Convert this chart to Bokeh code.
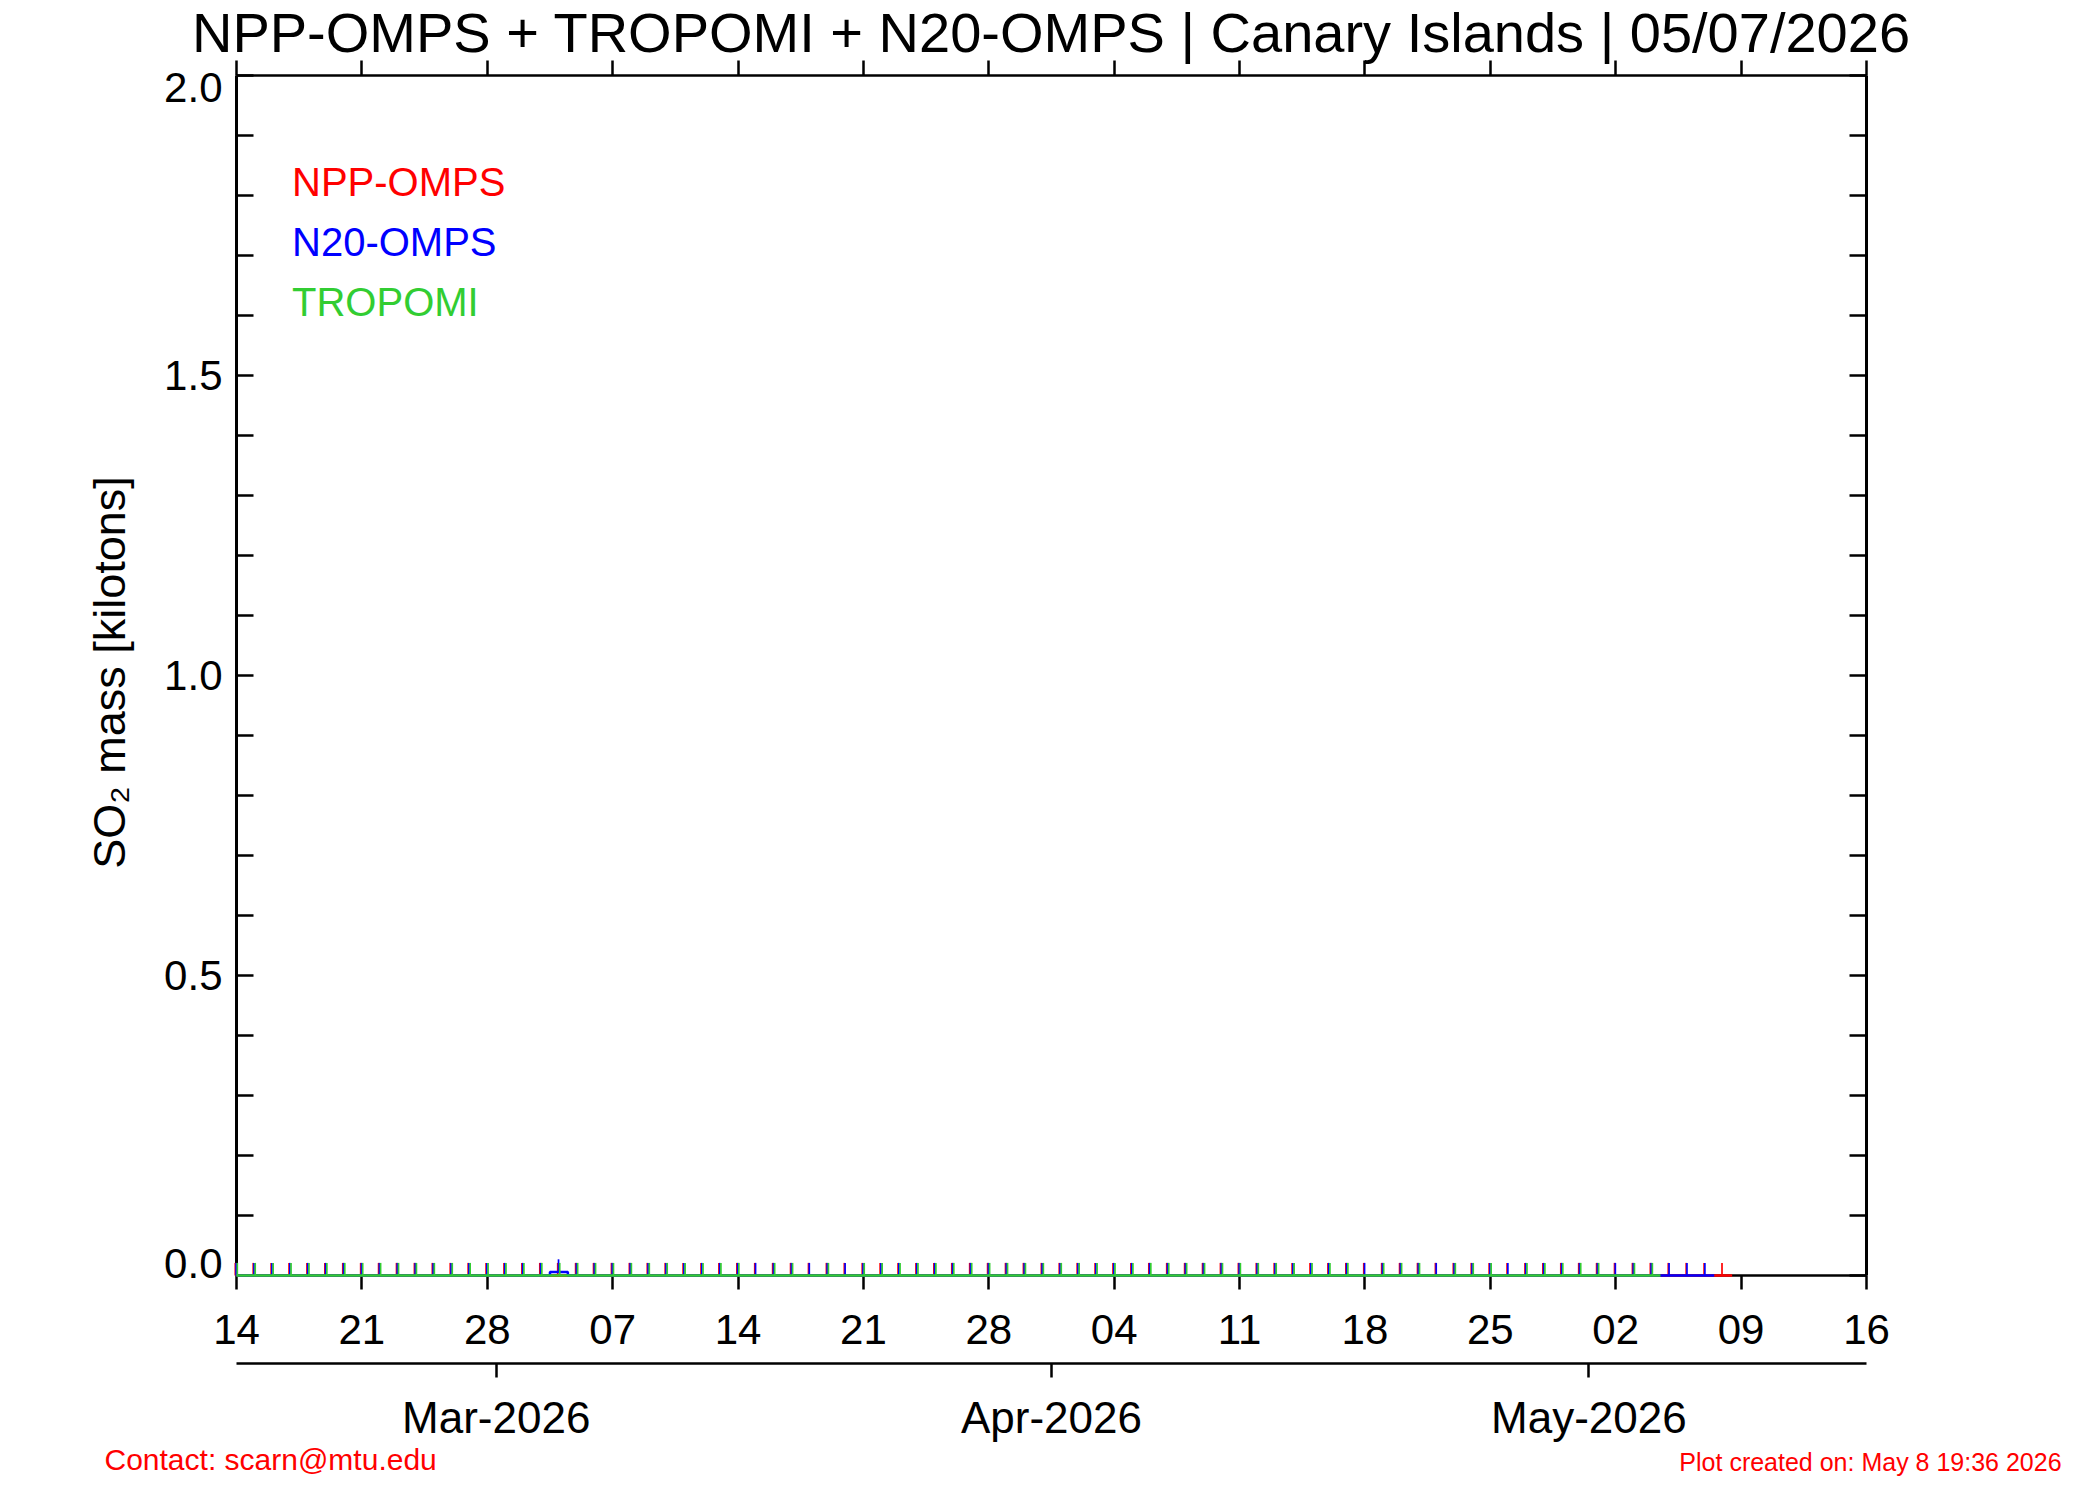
import numpy as np
import pandas as pd
from bokeh.plotting import figure
from bokeh.models import Range1d, LinearAxis, FixedTicker
from bokeh.core.properties import value
from bokeh.embed import file_html
from bokeh.resources import INLINE

# ---------------- data ----------------
title_text = "NPP-OMPS + TROPOMI + N20-OMPS | Canary Islands | 05/07/2026"
x_start_date = "2026-02-14"
x_end_date = "2026-05-16"

# NPP-OMPS daily SO2 mass [kt], 2026-02-14 .. 2026-05-08
npp_dates = pd.date_range("2026-02-14", "2026-05-08", freq="D")
npp_values = [
    0.0, 0.0, 0.0, 0.0, 0.0, 0.0, 0.0,
    0.0, 0.0, 0.0, 0.0, 0.0, 0.0, 0.0,
    0.0, 0.0, 0.0, 0.0, 0.0, 0.0, 0.0,
    0.0, 0.0, 0.0, 0.0, 0.0, 0.0, 0.0,
    0.0, 0.0, 0.0, 0.0, 0.0, 0.0, 0.0,
    0.0, 0.0, 0.0, 0.0, 0.0, 0.0, 0.0,
    0.0, 0.0, 0.0, 0.0, 0.0, 0.0, 0.0,
    0.0, 0.0, 0.0, 0.0, 0.0, 0.0, 0.0,
    0.0, 0.0, 0.0, 0.0, 0.0, 0.0, 0.0,
    0.0, 0.0, 0.0, 0.0, 0.0, 0.0, 0.0,
    0.0, 0.0, 0.0, 0.0, 0.0, 0.0, 0.0,
    0.0, 0.0, 0.0, 0.0, 0.0, 0.0, 0.0,
]

# N20-OMPS daily SO2 mass [kt], 2026-02-14 .. 2026-05-07
n20_dates = pd.date_range("2026-02-14", "2026-05-07", freq="D")
n20_values = [
    0.0, 0.0, 0.0, 0.0, 0.0, 0.0, 0.0,
    0.0, 0.0, 0.0, 0.0, 0.0, 0.0, 0.0,
    0.0, 0.0, 0.0, 0.0, 0.006, 0.0, 0.0,
    0.0, 0.0, 0.0, 0.0, 0.0, 0.0, 0.0,
    0.0, 0.0, 0.0, 0.0, 0.0, 0.0, 0.0,
    0.0, 0.0, 0.0, 0.0, 0.0, 0.0, 0.0,
    0.0, 0.0, 0.0, 0.0, 0.0, 0.0, 0.0,
    0.0, 0.0, 0.0, 0.0, 0.0, 0.0, 0.0,
    0.0, 0.0, 0.0, 0.0, 0.0, 0.0, 0.0,
    0.0, 0.0, 0.0, 0.0, 0.0, 0.0, 0.0,
    0.0, 0.0, 0.0, 0.0, 0.0, 0.0, 0.0,
    0.0, 0.0, 0.0, 0.0, 0.0, 0.0,
]

# TROPOMI daily SO2 mass [kt], 2026-02-14 .. 2026-05-04 (days without data removed)
tropomi_missing = ["2026-03-15", "2026-03-18", "2026-03-20", "2026-04-18",
                   "2026-04-22", "2026-04-26", "2026-05-02"]
tropomi_dates = pd.date_range("2026-02-14", "2026-05-04", freq="D").difference(
    pd.to_datetime(tropomi_missing))
tropomi_values = [
    0.0, 0.0, 0.0, 0.0, 0.0, 0.0, 0.0,
    0.0, 0.0, 0.0, 0.0, 0.0, 0.0, 0.0,
    0.0, 0.0, 0.0, 0.0, 0.0, 0.0, 0.0,
    0.0, 0.0, 0.0, 0.0, 0.0, 0.0, 0.0,
    0.0, 0.0, 0.0, 0.0, 0.0, 0.0, 0.0,
    0.0, 0.0, 0.0, 0.0, 0.0, 0.0, 0.0,
    0.0, 0.0, 0.0, 0.0, 0.0, 0.0, 0.0,
    0.0, 0.0, 0.0, 0.0, 0.0, 0.0, 0.0,
    0.0, 0.0, 0.0, 0.0, 0.0, 0.0, 0.0,
    0.0, 0.0, 0.0, 0.0, 0.0, 0.0, 0.0,
    0.0, 0.0, 0.0,
]

week_tick_dates = ["2026-02-14", "2026-02-21", "2026-02-28", "2026-03-07",
                   "2026-03-14", "2026-03-21", "2026-03-28", "2026-04-04",
                   "2026-04-11", "2026-04-18", "2026-04-25", "2026-05-02",
                   "2026-05-09", "2026-05-16"]
week_tick_labels = ["14", "21", "28", "07", "14", "21", "28", "04",
                    "11", "18", "25", "02", "09", "16"]
month_tick_dates = ["2026-03-01", "2026-04-01", "2026-05-01"]
month_tick_labels = ["Mar-2026", "Apr-2026", "May-2026"]
y_tick_values = [0.0, 0.5, 1.0, 1.5, 2.0]
y_tick_labels = ["0.0", "0.5", "1.0", "1.5", "2.0"]
y_minor_values = [0.1, 0.2, 0.3, 0.4, 0.6, 0.7, 0.8, 0.9, 1.1, 1.2, 1.3, 1.4,
                  1.6, 1.7, 1.8, 1.9]
legend_names = ["NPP-OMPS", "N20-OMPS", "TROPOMI"]
y_label_text = "SO\u2082 mass [kilotons]"
contact_text = "Contact: scarn@mtu.edu"
created_text = "Plot created on: May  8 19:36 2026"

# ---------------- style ----------------
FONT = "Liberation Sans"
RED, BLUE, GREEN = "#ff0000", "#0000ff", "#32cd32"
legend_colors = [RED, BLUE, GREEN]
TICK_KT = 0.021          # height of the daily data ticks (kilotons)
PX_DAY = 1630 / 91.0     # pixels per day on the x axis

T0 = pd.Timestamp(x_start_date)


def day(d):
    return np.asarray((pd.to_datetime(d) - T0) / pd.Timedelta(days=1), dtype=float)


X0 = 0.0
X1 = float(day([x_end_date])[0])

p = figure(width=2084, height=1484, x_range=Range1d(X0, X1), y_range=Range1d(0.0, 2.0),
           x_axis_type=None, y_axis_type=None, output_backend="svg",
           toolbar_location=None, min_border_left=236, min_border_right=218,
           min_border_top=75, min_border_bottom=209, outline_line_color=None,
           background_fill_color="white", border_fill_color="white")

# ---------------- axes ----------------
week_ticks = [int(round(v)) for v in day(week_tick_dates)]
month_ticks = [float(v) - 0.5 for v in day(month_tick_dates)]

ax_b1 = LinearAxis(ticker=FixedTicker(ticks=week_ticks),
                   major_label_overrides=dict(zip(week_ticks, week_tick_labels)))
ax_b2 = LinearAxis(ticker=FixedTicker(ticks=month_ticks),
                   major_label_overrides=dict(zip(month_ticks, month_tick_labels)))
ax_top = LinearAxis(ticker=FixedTicker(ticks=week_ticks),
                    major_label_overrides={t: "" for t in week_ticks})
ax_l = LinearAxis(ticker=FixedTicker(ticks=y_tick_values, minor_ticks=y_minor_values),
                  major_label_overrides={t: "" for t in y_tick_values})
ax_r = LinearAxis(ticker=FixedTicker(ticks=y_tick_values, minor_ticks=y_minor_values),
                  major_label_overrides={t: "" for t in y_tick_values})

for ax in (ax_b1, ax_b2, ax_top, ax_l, ax_r):
    ax.axis_line_color = "black"
    ax.major_tick_line_color = "black"
    ax.minor_tick_line_color = "black"
    ax.major_label_text_font = FONT
    ax.major_label_text_color = "black"

for ax in (ax_b1, ax_b2, ax_top):
    ax.axis_line_width = 2.5
    ax.major_tick_line_width = 2.5
    ax.major_tick_in = 0
    ax.minor_tick_in = 0
    ax.minor_tick_out = 0

ax_b1.major_tick_out = 14
ax_b1.major_label_text_font_size = "42px"
ax_b1.major_label_standoff = 25
ax_b1.axis_label = " "
ax_b1.axis_label_text_font_size = "2px"
ax_b1.axis_label_standoff = 12

ax_b2.major_tick_out = 14
ax_b2.major_label_text_font_size = "44px"
ax_b2.major_label_standoff = 15

ax_top.major_tick_out = 15
ax_top.major_label_text_font_size = "0px"
ax_top.major_label_standoff = 0

for ax in (ax_l, ax_r):
    ax.axis_line_width = 3
    ax.major_tick_line_width = 2.5
    ax.minor_tick_line_width = 2.5
    ax.major_tick_in = 17
    ax.major_tick_out = 0
    ax.minor_tick_in = 17
    ax.minor_tick_out = 0
    ax.major_label_text_font_size = "0px"
    ax.major_label_standoff = 0

p.add_layout(ax_b1, "below")
p.add_layout(ax_b2, "below")
p.add_layout(ax_top, "above")
p.add_layout(ax_l, "left")
p.add_layout(ax_r, "right")

# ---------------- data marks ----------------


def step_xy(x, v):
    xs, ys = [], []
    for xi, vi in zip(x, v):
        xs += [max(xi - 0.5, X0), min(xi + 0.5, X1)]
        ys += [vi, vi]
    return xs, ys


# (days, values, colour, tick offset in px) drawn in this order
series = [
    (day(npp_dates), np.asarray(npp_values, float), RED, -1.2),
    (day(n20_dates), np.asarray(n20_values, float), BLUE, -0.4),
    (day(tropomi_dates), np.asarray(tropomi_values, float), GREEN, 0.8),
]
for x, v, col, dpx in series:
    xs, ys = step_xy(x, v)
    p.line(xs, ys, line_color=col, line_width=2.5, level="overlay")
    xt = x + dpx / PX_DAY
    p.segment(x0=xt, y0=v, x1=xt, y1=v + TICK_KT, line_color=col, line_width=1.7,
              level="overlay")

# ---------------- texts ----------------
p.text(x=[(X0 + X1) / 2], y=[2.0], text=[title_text], text_font=value(FONT),
       text_font_size=value("56px"), text_color="black", text_align="center",
       text_baseline="middle", y_offset=-43, level="overlay")

# y tick labels (end labels pulled inside the frame, as in the original)
y_shift = [12 if v == max(y_tick_values) else (-12 if v == min(y_tick_values) else 0)
           for v in y_tick_values]
p.text(x=[X0] * len(y_tick_values), y=y_tick_values, text=y_tick_labels,
       text_font=value(FONT), text_font_size=value("42px"), text_color="black",
       text_align="right", text_baseline="middle", x_offset=-14,
       y_offset=y_shift, level="overlay")

p.text(x=[X0], y=[1.0], text=[y_label_text], angle=np.pi / 2, text_font=value(FONT),
       text_font_size=value("45px"), text_color="black", text_align="center",
       text_baseline="middle", x_offset=-127, y_offset=-3, level="overlay")

LEGEND_X, LEGEND_Y0, LEGEND_DY = 3.1, 1.8, 0.1
p.text(x=[LEGEND_X] * len(legend_names),
       y=[LEGEND_Y0 - i * LEGEND_DY for i in range(len(legend_names))],
       text=legend_names, text_color=legend_colors, text_font=value(FONT),
       text_font_size=value("40px"), text_align="left", text_baseline="middle",
       y_offset=-14, level="overlay")

p.text(x=[X0], y=[0.0], text=[contact_text], text_font=value(FONT),
       text_font_size=value("30px"), text_color=RED, text_align="left",
       text_baseline="middle", x_offset=-132, y_offset=184, level="overlay")
p.text(x=[X1], y=[0.0], text=[created_text], text_font=value(FONT),
       text_font_size=value("25px"), text_color=RED, text_align="right",
       text_baseline="middle", x_offset=202, y_offset=186, level="overlay")

open("out.html", "w").write(file_html(p, INLINE))
